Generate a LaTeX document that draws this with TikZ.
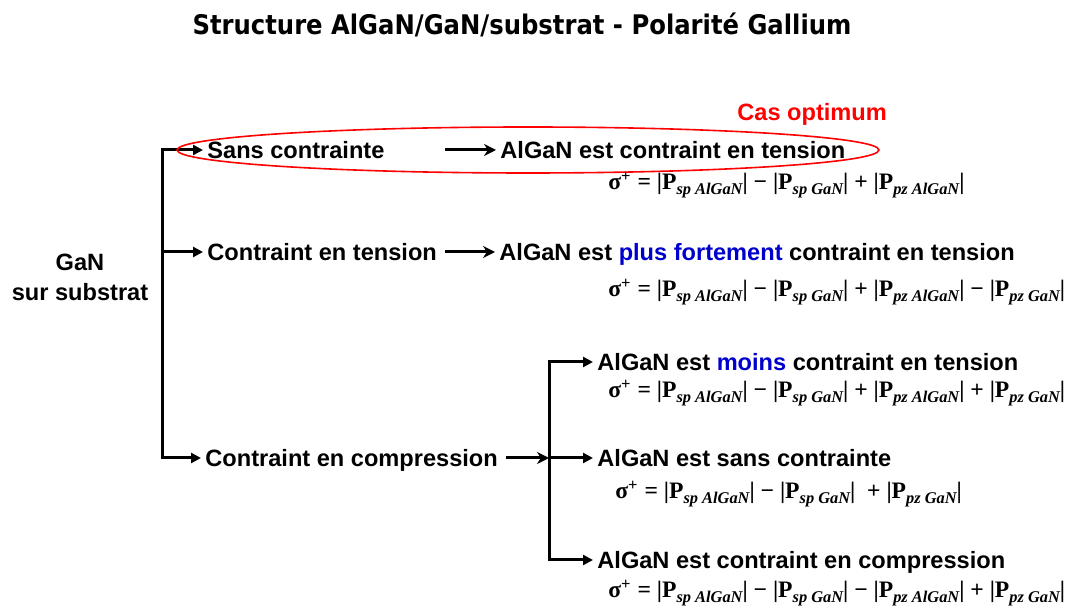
\documentclass[tikz,border=0pt]{standalone}
\usepackage{fontspec}
\setmainfont{Liberation Sans}
\newfontfamily\eqfont{Liberation Serif}
\newfontfamily\titlefont{DejaVu Sans Condensed}
\usetikzlibrary{arrows.meta, positioning, shapes.geometric, calc}
\definecolor{optred}{RGB}{255,0,0}
\definecolor{keyblue}{RGB}{0,0,204}
% polarisation term |P_{a b}|
\newcommand{\Pterm}[2]{|P\raisebox{-0.45ex}{\fontsize{8.2}{9}\selectfont\itshape #1 #2}|}
\newcommand{\sigp}{σ\textsuperscript{+}}

\begin{document}
\begin{tikzpicture}[x=0.5pt, y=-0.5pt,
  label/.style={font=\fontsize{11.8}{14}\selectfont\bfseries, anchor=west,
    inner xsep=2pt, inner ysep=0pt, text height=8.4pt, text depth=0pt},
  charge/.style={font=\fontsize{11.8}{15}\selectfont\eqfont\bfseries,
    anchor=base west, inner sep=0pt},
  trunk/.style={line width=1.5pt},
  branch/.style={line width=1.5pt, -{Triangle[length=5pt,width=5pt]}},
  lead/.style={line width=1.5pt, -{Stealth[length=6pt,width=6pt]}, shorten <=2pt}]

  \useasboundingbox (0,0) rectangle (1066,608);

  \node[font=\titlefont\fontsize{13.5}{15}\selectfont\bfseries] (title) at (522,25)
    {Structure AlGaN/GaN/substrat - Polarité Gallium};

  % starting layer
  \node[align=center, inner sep=0pt, font=\fontsize{11.8}{15}\selectfont\bfseries] (gan) at (80,277)
    {GaN\\sur substrat};

  % state of the GaN layer
  \coordinate (trunk) at (162,252);
  \node[label] (free) at (203,150) {Sans contrainte};
  \node[label] (tens) at (203,252) {Contraint en tension};
  \node[label] (comp) at (201,458) {Contraint en compression};

  \draw[branch] (trunk) |- (free.west);
  \draw[branch] (trunk) -- (tens.west);
  \draw[branch] (trunk) |- (comp.west);

  % resulting state of AlGaN
  \node[label] (r1) at (496,150) {AlGaN est contraint en tension};
  \node[label] (r2) at (495,252) {AlGaN est \textcolor{keyblue}{plus fortement} contraint en tension};
  \node[label] (r3) at (593,362) {AlGaN est \textcolor{keyblue}{moins} contraint en tension};
  \node[label] (r4) at (593,458) {AlGaN est sans contrainte};
  \node[label] (r5) at (593,560) {AlGaN est contraint en compression};

  \draw[lead] (free -| tens.east) -- (r1.west);
  \draw[lead] (tens.east) -- (r2.west);

  \coordinate (fork) at (549,458);
  \draw[lead] (comp.east) -- (fork);
  \draw[branch] (fork) |- (r3.west);
  \draw[branch] (fork) -- (r4.west);
  \draw[branch] (fork) |- (r5.west);

  % best case
  \node[draw=optred, line width=0.8pt, ellipse, inner sep=0pt,
    minimum width=351pt, minimum height=23pt] (optimum) at (528,150) {};
  \node[label, text=optred] (cas) at (733,112) {Cas optimum};

  % interface charge
  \node[charge] (s1) at (608,190) {\sigp{} = \Pterm{sp}{AlGaN} − \Pterm{sp}{GaN} + \Pterm{pz}{AlGaN}};
  \node[charge] (s2) at (608,297) {\sigp{} = \Pterm{sp}{AlGaN} − \Pterm{sp}{GaN} + \Pterm{pz}{AlGaN} − \Pterm{pz}{GaN}};
  \node[charge] (s3) at (608,398) {\sigp{} = \Pterm{sp}{AlGaN} − \Pterm{sp}{GaN} + \Pterm{pz}{AlGaN} + \Pterm{pz}{GaN}};
  \node[charge] (s4) at (615,499) {\sigp{} = \Pterm{sp}{AlGaN} − \Pterm{sp}{GaN}\ \ + \Pterm{pz}{GaN}};
  \node[charge] (s5) at (608,598) {\sigp{} = \Pterm{sp}{AlGaN} − \Pterm{sp}{GaN} − \Pterm{pz}{AlGaN} + \Pterm{pz}{GaN}};
\end{tikzpicture}
\end{document}
